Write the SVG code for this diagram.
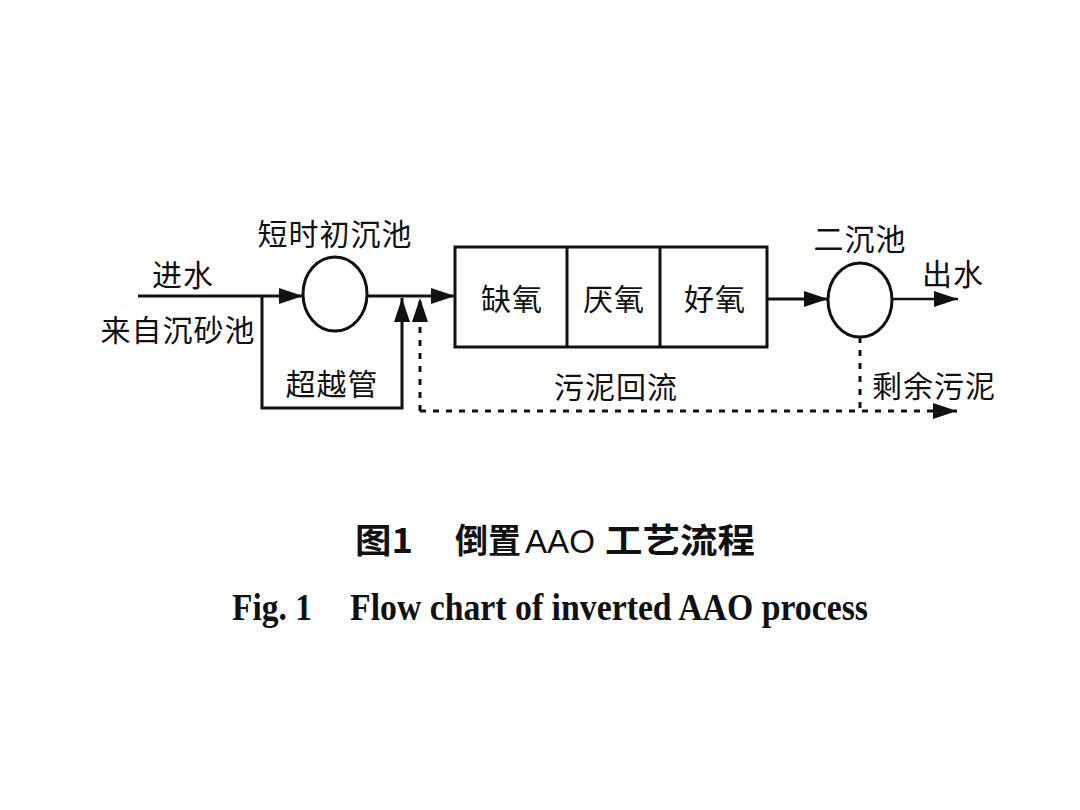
<svg xmlns="http://www.w3.org/2000/svg" width="1080" height="810" viewBox="0 0 1080 810">
<defs>
<style>
.lbl{font-family:"Noto Sans CJK SC","Noto Sans",sans-serif;font-size:30px;fill:#111;dominant-baseline:central;letter-spacing:1px}
.ln{fill:none;stroke:#111;stroke-width:3}
.dot{fill:none;stroke:#111;stroke-width:3;stroke-dasharray:6 7}
.shape{fill:#fff;stroke:#111;stroke-width:3}
.t1{font-family:"Noto Sans CJK SC",sans-serif;font-size:34px;font-weight:700;fill:#111}
.t1n{font-family:"Liberation Sans Narrow","Liberation Sans",sans-serif;font-size:34px;font-weight:400;fill:#111}
.t2{font-family:"Liberation Serif",serif;font-size:38px;font-weight:700;fill:#111}
</style>
<marker id="ah" markerUnits="userSpaceOnUse" markerWidth="26" markerHeight="18" refX="24" refY="8" orient="auto">
<path d="M0,0 L24,8 L0,16 Z" fill="#111"/>
</marker>
</defs>
<rect width="1080" height="810" fill="#fff"/>
<g id="connectors">
<path class="ln" d="M138,296 H303" marker-end="url(#ah)"/>
<path class="ln" d="M262,296 V408 H402 V298" marker-end="url(#ah)"/>
<path class="ln" d="M367,296 H455" marker-end="url(#ah)"/>
<path class="ln" d="M767,299 H828" marker-end="url(#ah)"/>
<path class="ln" style="stroke-width:2.5" d="M892,299 H958" marker-end="url(#ah)"/>
<path class="dot" d="M420,411 V298" marker-end="url(#ah)"/>
<path class="dot" d="M420,411 H957" marker-end="url(#ah)"/>
<path class="dot" d="M860,337 V411"/>
</g>
<g id="primary-clarifier">
<ellipse class="shape" cx="335" cy="294" rx="32" ry="37"/>
<text class="lbl" x="335" y="232" text-anchor="middle">短时初沉池</text>
</g>
<g id="inlet-labels">
<text class="lbl" x="183" y="273" text-anchor="middle">进水</text>
<text class="lbl" x="178" y="328" text-anchor="middle">来自沉砂池</text>
</g>
<g id="bypass-label">
<text class="lbl" x="332" y="382" text-anchor="middle">超越管</text>
</g>
<g id="reactor">
<rect class="shape" x="455" y="247" width="312" height="100"/>
<line class="ln" x1="567" y1="247" x2="567" y2="347"/>
<line class="ln" x1="660" y1="247" x2="660" y2="347"/>
<text class="lbl" x="512" y="297" text-anchor="middle">缺氧</text>
<text class="lbl" x="614" y="297" text-anchor="middle">厌氧</text>
<text class="lbl" x="715" y="297" text-anchor="middle">好氧</text>
</g>
<g id="return-sludge-label">
<text class="lbl" x="616" y="385" text-anchor="middle">污泥回流</text>
</g>
<g id="secondary-clarifier">
<ellipse class="shape" cx="860" cy="300" rx="32" ry="37"/>
<text class="lbl" x="860" y="237" text-anchor="middle">二沉池</text>
</g>
<g id="outlet-label">
<text class="lbl" x="953" y="272" text-anchor="middle">出水</text>
</g>
<g id="waste-sludge-label">
<text class="lbl" x="934" y="384" text-anchor="middle">剩余污泥</text>
</g>
<g id="caption">
<text class="t1" x="355" y="553" textLength="58" lengthAdjust="spacingAndGlyphs">图1</text>
<text class="t1" x="455" y="553" textLength="66" lengthAdjust="spacingAndGlyphs">倒置</text>
<text class="t1n" x="525" y="553" textLength="70" lengthAdjust="spacingAndGlyphs">AAO</text>
<text class="t1" x="605" y="553" textLength="150" lengthAdjust="spacingAndGlyphs">工艺流程</text>
<text class="t2" x="232" y="620" textLength="80" lengthAdjust="spacingAndGlyphs">Fig. 1</text>
<text class="t2" x="350" y="620" textLength="518" lengthAdjust="spacingAndGlyphs">Flow chart of inverted AAO process</text>
</g>
</svg>
